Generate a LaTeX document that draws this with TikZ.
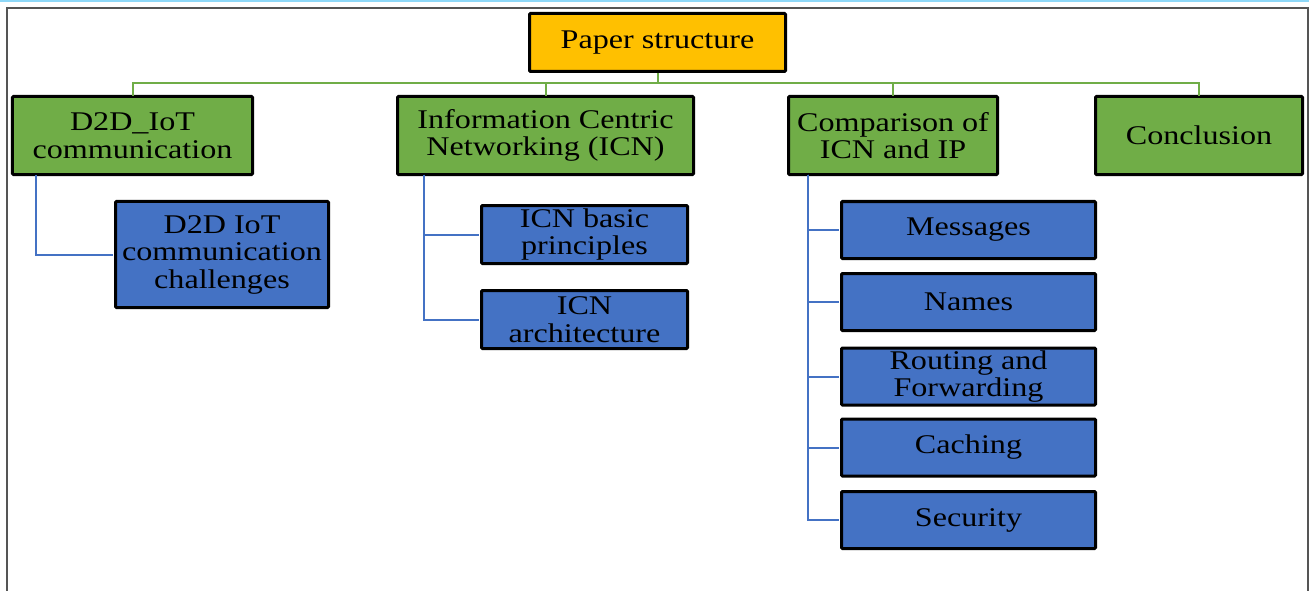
\documentclass[tikz,border=0pt]{standalone}
\usepackage{fontspec}
\setmainfont{Liberation Serif}[FakeStretch=1.19]
\definecolor{orng}{HTML}{FFC000}
\definecolor{grn}{HTML}{70AD47}
\definecolor{blu}{HTML}{4472C4}
\definecolor{topline}{HTML}{8ED8F8}
\definecolor{frame}{HTML}{555555}
\tikzset{
  box/.style={draw=black, line width=3bp, rounded corners=1bp, inner sep=0pt, align=center,
    font=\fontsize{27bp}{27.5bp}\selectfont},
  rootbox/.style={box, fill=orng},
  topbox/.style={box, fill=grn, minimum height=78bp},
  subbox/.style={box, fill=blu},
  bus/.style={draw=grn, line width=2bp},
  branch/.style={draw=blu, line width=2bp},
}
\begin{document}
\begin{tikzpicture}[x=1bp, y=-1bp]
\useasboundingbox (0,0) rectangle (1309,591);
% frame
\draw[topline, line width=2bp] (0,1) -- (1309,1);
\draw[frame, line width=1.5bp] (7,600) -- (7,8) -- (1308,8) -- (1308,600);
% nodes
\node[rootbox, minimum width=256bp, minimum height=58bp] (root) at (657.5,42.5) {Paper structure};
\node[topbox, minimum width=240bp] (d2d) at (132.5,135.5) {D2D\_IoT\\communication};
\node[topbox, minimum width=296bp] (icn) at (545.5,135.5) {Information Centric\\Networking (ICN)};
\node[topbox, minimum width=209bp] (comp) at (893,135.5) {Comparison of\\ICN and IP};
\node[topbox, minimum width=207bp] (concl) at (1199,135.5) {Conclusion};
\node[subbox, minimum width=213bp, minimum height=106bp] (chal) at (222,254.5) {D2D IoT\\communication\\challenges};
\node[subbox, minimum width=206bp, minimum height=58bp] (basic) at (584.5,234.5) {ICN basic\\principles};
\node[subbox, minimum width=206bp, minimum height=58bp] (arch) at (584.5,319.5) {ICN\\architecture};
\node[subbox, minimum width=254bp, minimum height=57bp] (msg) at (968.5,230) {Messages};
\node[subbox, minimum width=254bp, minimum height=57bp] (names) at (968.5,302) {Names};
\node[subbox, minimum width=254bp, minimum height=57bp] (rout) at (968.5,376.5) {Routing and\\Forwarding};
\node[subbox, minimum width=254bp, minimum height=57bp] (cach) at (968.5,447.5) {Caching};
\node[subbox, minimum width=254bp, minimum height=57bp] (sec) at (968.5,520) {Security};
% connectors
\draw[bus] (root.south) -- ++(0,10) coordinate (busc);
\draw[bus] (busc) -| ([yshift=-1.5bp]d2d.north);
\draw[bus] (busc) -| ([yshift=-1.5bp]icn.north);
\draw[bus] (busc) -| ([yshift=-1.5bp]comp.north);
\draw[bus] (busc) -| ([yshift=-1.5bp]concl.north);
\draw[branch] ([xshift=25bp,yshift=1.5bp]d2d.south west) |- ([xshift=-1.5bp]chal.west);
\draw[branch] ([xshift=28bp,yshift=1.5bp]icn.south west) |- ([xshift=-1.5bp]basic.west);
\draw[branch] ([xshift=28bp,yshift=1.5bp]icn.south west) |- ([xshift=-1.5bp]arch.west);
\draw[branch] ([xshift=21bp,yshift=1.5bp]comp.south west) |- ([xshift=-1.5bp]msg.west);
\draw[branch] ([xshift=21bp,yshift=1.5bp]comp.south west) |- ([xshift=-1.5bp]names.west);
\draw[branch] ([xshift=21bp,yshift=1.5bp]comp.south west) |- ([xshift=-1.5bp]rout.west);
\draw[branch] ([xshift=21bp,yshift=1.5bp]comp.south west) |- ([xshift=-1.5bp]cach.west);
\draw[branch] ([xshift=21bp,yshift=1.5bp]comp.south west) |- ([xshift=-1.5bp]sec.west);
\end{tikzpicture}
\end{document}
